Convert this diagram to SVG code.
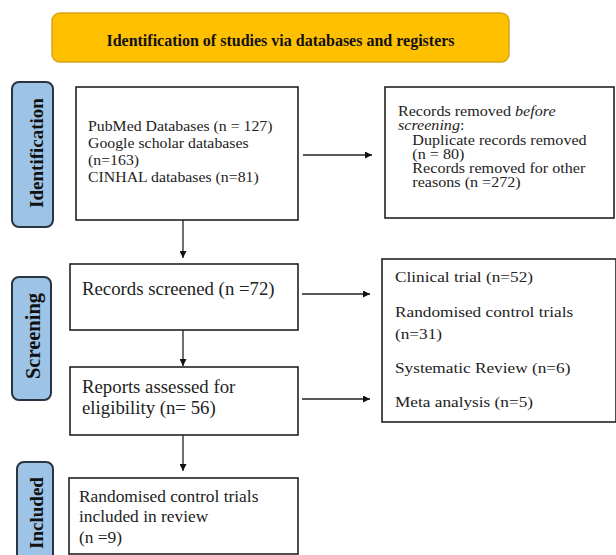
<svg xmlns="http://www.w3.org/2000/svg" width="616" height="555" viewBox="0 0 616 555">
<style>
.box{fill:#fff;stroke:#222;stroke-width:1.6}
.lab{fill:#9DC3E6;stroke:#2a3340;stroke-width:2}
.t{font-family:"Liberation Serif","Times New Roman",serif;fill:#222}
.tb{font-family:"Liberation Serif","Times New Roman",serif;fill:#111;font-weight:bold}
.c{stroke:#222;stroke-width:1.3;fill:none;marker-end:url(#ah)}
</style>
<defs>
<marker id="ah" viewBox="0 0 10 10" refX="10" refY="5" markerWidth="7" markerHeight="7" markerUnits="userSpaceOnUse" orient="auto">
<path d="M0,0 L10,5 L0,10 z" fill="#111"/>
</marker>
</defs>
<rect width="616" height="555" fill="#fff"/>
<g id="title">
<rect x="52" y="13" width="457" height="49" rx="8" fill="#FFC000" stroke="#D9A21B" stroke-width="1.5"/>
<text class="tb" x="280.5" y="46" font-size="16" text-anchor="middle">Identification of studies via databases and registers</text>
</g>
<g id="lab-identification">
<rect class="lab" x="12" y="82" width="41" height="145" rx="7"/>
<text class="tb" font-size="19" text-anchor="middle" transform="translate(43,153) rotate(-90)">Identification</text>
</g>
<g id="lab-screening">
<rect class="lab" x="12" y="277" width="39" height="123" rx="7"/>
<text class="tb" font-size="20.5" text-anchor="middle" transform="translate(40,336) rotate(-90)">Screening</text>
</g>
<g id="lab-included">
<rect class="lab" x="17" y="462" width="36" height="110" rx="7"/>
<text class="tb" font-size="19" text-anchor="middle" transform="translate(43,513) rotate(-90)">Included</text>
</g>
<g id="n-sources">
<rect class="box" x="76" y="87" width="222" height="133"/>
<g transform="translate(88,0) scale(1.13,1)" font-size="14">
<text class="t" x="0" y="131">PubMed Databases (n = 127)</text>
<text class="t" x="0" y="148">Google scholar databases</text>
<text class="t" x="0" y="165">(n=163)</text>
<text class="t" x="0" y="182">CINHAL databases (n=81)</text>
</g>
</g>
<g id="n-removed">
<rect class="box" x="385" y="87" width="229" height="131"/>
<g transform="translate(398,0) scale(1.15,1)" font-size="14">
<text class="t" x="0" y="116">Records removed <tspan font-style="italic">before</tspan></text>
<text class="t" x="0" y="130" font-style="italic">screening<tspan font-style="normal">:</tspan></text>
<text class="t" x="12.5" y="145">Duplicate records removed</text>
<text class="t" x="12.5" y="159">(n = 80)</text>
<text class="t" x="12.5" y="173">Records removed for other</text>
<text class="t" x="12.5" y="187">reasons (n =272)</text>
</g>
</g>
<g id="n-screened">
<rect class="box" x="70" y="264" width="228" height="66"/>
<text class="t" x="82" y="295" font-size="18.8">Records screened (n =72)</text>
</g>
<g id="n-assessed">
<rect class="box" x="70" y="367" width="228" height="68"/>
<text class="t" x="82" y="393" font-size="18.8">Reports assessed for</text>
<text class="t" x="82" y="414" font-size="18.8">eligibility (n= 56)</text>
</g>
<g id="n-excluded">
<rect class="box" x="382" y="259" width="234" height="163"/>
<g transform="translate(395,0) scale(1.15,1)" font-size="15">
<text class="t" x="0" y="282">Clinical trial (n=52)</text>
<text class="t" x="0" y="317">Randomised control trials</text>
<text class="t" x="0" y="339">(n=31)</text>
<text class="t" x="0" y="373">Systematic Review (n=6)</text>
<text class="t" x="0" y="407">Meta analysis (n=5)</text>
</g>
</g>
<g id="n-included">
<rect class="box" x="69" y="478" width="229" height="76"/>
<g transform="translate(79,0) scale(1.1,1)" font-size="15.8">
<text class="t" x="0" y="502">Randomised control trials</text>
<text class="t" x="0" y="522">included in review</text>
<text class="t" x="0" y="543">(n =9)</text>
</g>
</g>
<g id="connectors">
<line class="c" x1="303" y1="155" x2="372" y2="155"/>
<line class="c" x1="183" y1="220" x2="183" y2="258"/>
<line class="c" x1="183" y1="330" x2="183" y2="366"/>
<line class="c" x1="183" y1="435" x2="183" y2="471"/>
<line class="c" x1="302" y1="294" x2="370" y2="294"/>
<line class="c" x1="302" y1="399" x2="370" y2="399"/>
</g>
</svg>
